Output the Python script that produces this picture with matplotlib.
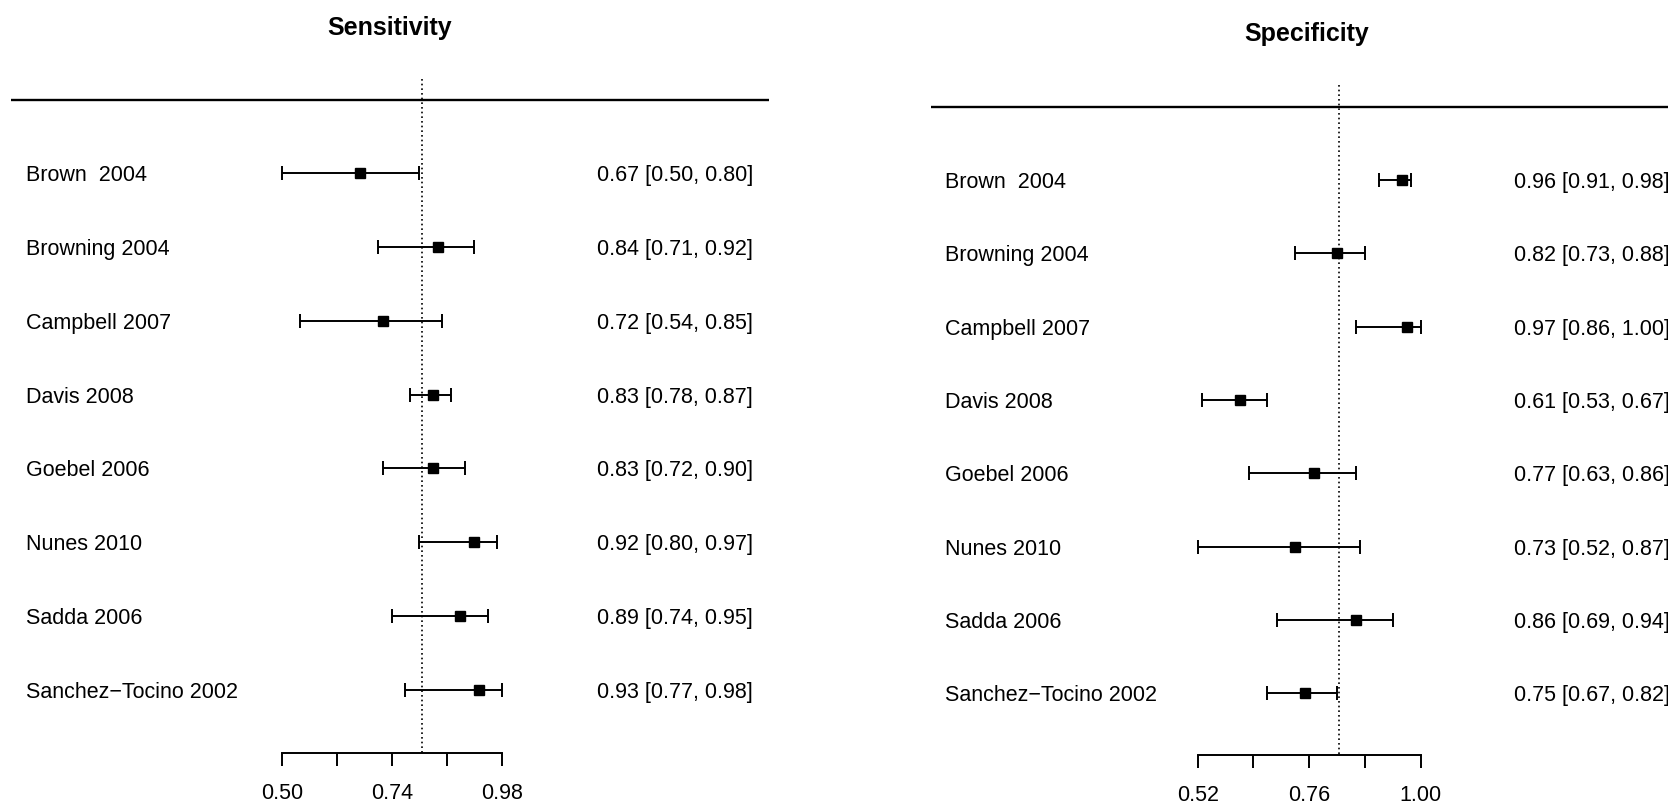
import matplotlib
matplotlib.use("Agg")
import matplotlib.pyplot as plt

# ---------------- data ----------------
studies = ["Brown  2004", "Browning 2004", "Campbell 2007", "Davis 2008",
           "Goebel 2006", "Nunes 2010", "Sadda 2006", "Sanchez\u2212Tocino 2002"]

sens_est = [0.67, 0.84, 0.72, 0.83, 0.83, 0.92, 0.89, 0.93]
sens_lo = [0.50, 0.71, 0.54, 0.78, 0.72, 0.80, 0.74, 0.77]
sens_hi = [0.80, 0.92, 0.85, 0.87, 0.90, 0.97, 0.95, 0.98]
sens_pooled = 0.807

spec_est = [0.96, 0.82, 0.97, 0.61, 0.77, 0.73, 0.86, 0.75]
spec_lo = [0.91, 0.73, 0.86, 0.53, 0.63, 0.52, 0.69, 0.67]
spec_hi = [0.98, 0.88, 1.00, 0.67, 0.86, 0.87, 0.94, 0.82]
spec_pooled = 0.824

sens_ticks = [0.50, 0.62, 0.74, 0.86, 0.98]
sens_tick_labels = ["0.50", "", "0.74", "", "0.98"]
spec_ticks = [0.52, 0.64, 0.76, 0.88, 1.00]
spec_tick_labels = ["0.52", "", "0.76", "", "1.00"]

# ---------------- layout (pixels) ----------------
W, H = 1668, 806
plt.rcParams['font.family'] = ['Liberation Sans', 'DejaVu Sans']
FS = 15.5
TITLE_FS = 18

fig = plt.figure(figsize=(W / 100, H / 100), dpi=100)

LEFT_LAYOUT = dict(left=11, right=769, tick_lo_px=281.7, tick_hi_px=501.7,
                   row0=173.3, step=73.8, axis_y=753.3, hline_y=100.5,
                   dot_top=79, label_x=26.5, value_x=597, title_x=390, title_y=25)
RIGHT_LAYOUT = dict(left=931, right=1668, tick_lo_px=1197.7, tick_hi_px=1420.7,
                    row0=180, step=73.35, axis_y=755, hline_y=107.3,
                    dot_top=85, label_x=945, value_x=1514.5, title_x=1307, title_y=32)


def panel(title, est, lo, hi, pooled, ticks, tick_labels, L):
    scale = (L['tick_hi_px'] - L['tick_lo_px']) / (ticks[-1] - ticks[0])

    def px2x(p):
        return ticks[0] + (p - L['tick_lo_px']) / scale

    def py2y(p):
        return (p - L['row0']) / L['step']

    ax = fig.add_axes([L['left'] / W, 0, (L['right'] - L['left']) / W, 1])
    ax.set_xlim(px2x(L['left']), px2x(L['right']))
    ax.set_ylim(py2y(H), py2y(0))
    ax.patch.set_visible(False)
    for s in ['top', 'left', 'right']:
        ax.spines[s].set_visible(False)
    ax.spines['bottom'].set_position(('data', py2y(L['axis_y'])))
    ax.spines['bottom'].set_bounds(ticks[0], ticks[-1])
    ax.spines['bottom'].set_linewidth(1.4)
    ax.set_xticks(ticks)
    ax.set_xticklabels(tick_labels)
    ax.tick_params(axis='x', direction='out', length=9.6, width=1.4, pad=12,
                   labelsize=FS, colors='black')
    ax.set_yticks([])

    rows = list(range(len(est)))
    xerr = [[e - l for e, l in zip(est, lo)], [h - e for e, h in zip(est, hi)]]
    ax.errorbar(est, rows, xerr=xerr, fmt='s', color='black', ms=7.4,
                elinewidth=1.4, capsize=4.9, capthick=1.4, clip_on=False, zorder=3)

    # header rule
    ax.axhline(py2y(L['hline_y']), color='black', lw=1.7)
    # pooled estimate
    ax.plot([pooled, pooled], [py2y(L['dot_top']), py2y(L['axis_y'])],
            color='black', lw=1.2, ls=(0, (1, 1.8)), zorder=2)

    for i, (name, e, l, h) in enumerate(zip(studies, est, lo, hi)):
        ax.text(px2x(L['label_x']), i, name, ha='left', va='center_baseline',
                fontsize=FS, color='black')
        ax.text(px2x(L['value_x']), i, f"{e:.2f} [{l:.2f}, {h:.2f}]",
                ha='left', va='center_baseline', fontsize=FS, color='black',
                clip_on=False)

    ax.text(px2x(L['title_x']), py2y(L['title_y']), title, ha='center',
            va='center_baseline', fontsize=TITLE_FS, fontweight='bold', color='black')
    return ax


panel("Sensitivity", sens_est, sens_lo, sens_hi, sens_pooled,
      sens_ticks, sens_tick_labels, LEFT_LAYOUT)
panel("Specificity", spec_est, spec_lo, spec_hi, spec_pooled,
      spec_ticks, spec_tick_labels, RIGHT_LAYOUT)

fig.savefig("out.png", dpi=100, facecolor="white")
